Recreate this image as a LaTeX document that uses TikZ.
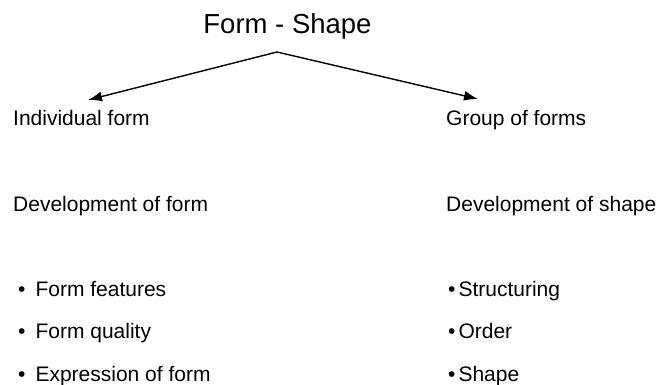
\documentclass[tikz,border=0pt]{standalone}
\usepackage{fontspec}
\setmainfont{Liberation Sans}
\usetikzlibrary{arrows.meta}
\tikzset{
  body/.style={anchor=base west, inner sep=0pt, font=\fontsize{21}{25}\selectfont},
  titletext/.style={anchor=base, inner sep=0pt, font=\fontsize{27.5}{32}\selectfont},
  branch/.style={line width=1.4pt, -{Latex[length=14pt,width=10pt]}}
}
\begin{document}
\begin{tikzpicture}[x=1pt,y=-1pt]
\useasboundingbox (0,0) rectangle (661,385);
\node[titletext] (title) at (287.5,34) {Form - Shape};
\coordinate (apex) at (277,52);
\coordinate (ltip) at (88,100);
\coordinate (rtip) at (478,99);
\draw[branch] (apex) -- (ltip);
\draw[branch] (apex) -- (rtip);
\node[body] (ind) at (13,125) {Individual form};
\node[body] (grp) at (446,125) {Group of forms};
\node[body] (devf) at (13,211) {Development of form};
\node[body] (devs) at (446,211) {Development of shape};
\node[body] (l1) at (18,296) {•\hspace{10pt}Form features};
\node[body] (l2) at (18,338) {•\hspace{10pt}Form quality};
\node[body] (l3) at (18,381) {•\hspace{10pt}Expression of form};
\node[body] (r1) at (448,296) {•\hspace{3pt}Structuring};
\node[body] (r2) at (448,338) {•\hspace{3pt}Order};
\node[body] (r3) at (448,381) {•\hspace{3pt}Shape};
\end{tikzpicture}
\end{document}
